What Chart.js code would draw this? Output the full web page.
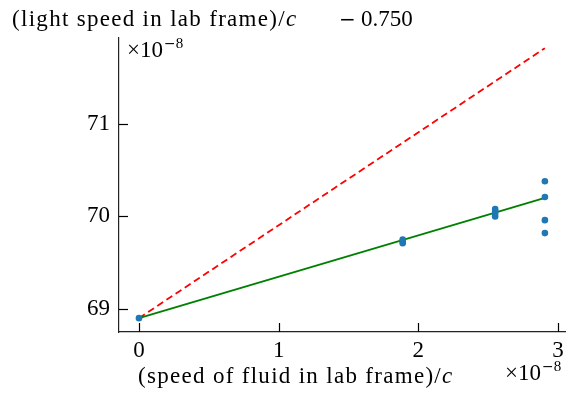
<!DOCTYPE html>
<html>
<head>
<meta charset="utf-8">
<script src="https://cdn.jsdelivr.net/npm/chart.js@4.4.0/dist/chart.umd.min.js"></script>
<style>
  html, body { margin: 0; padding: 0; background: #fff; }
  #wrap { width: 581px; height: 394px; }
</style>
</head>
<body>
<div id="wrap"><canvas id="chart" width="581" height="394"></canvas></div>
<script>
// measured values (x and y both in units of 1e-8, y offset by 0.750)
const measX = [0, 1.888, 1.888, 1.888, 2.55, 2.55, 2.55, 2.55, 2.906, 2.906, 2.906, 2.906];
const measY = [68.90, 69.71, 69.73, 69.75, 70.00, 70.03, 70.06, 70.08, 70.38, 70.21, 69.96, 69.82];
// fitted line and prediction
const fitX = [0, 2.906];
const fitY = [68.90, 70.20];
const predX = [0, 2.906];
const predY = [68.90, 71.82];
const xTicks = [0, 1, 2, 3];
const yTicks = [69, 70, 71];

const serif = '"Liberation Serif", "DejaVu Serif", serif';
const wideSerif = '"DejaVu Serif", serif';
const toPts = (xs, ys) => xs.map((x, i) => ({ x: x, y: ys[i] }));

// inward ticks + loose labels
const extras = {
  id: 'extras',
  afterDraw(chart) {
    const c = chart.ctx, a = chart.chartArea;
    const xs = chart.scales.x, ys = chart.scales.y;
    c.save();
    c.strokeStyle = '#000';
    c.lineWidth = 1.2;
    xTicks.forEach(v => {
      const px = Math.round(xs.getPixelForValue(v)) + 0.5;
      c.beginPath(); c.moveTo(px, a.bottom); c.lineTo(px, a.bottom - 9); c.stroke();
    });
    yTicks.forEach(v => {
      const py = Math.round(ys.getPixelForValue(v)) + 0.5;
      c.beginPath(); c.moveTo(a.left, py); c.lineTo(a.left + 9, py); c.stroke();
    });
    c.fillStyle = '#000';
    c.textBaseline = 'alphabetic';
    c.textAlign = 'left';
    const label = (txt, x, y) => {
      c.letterSpacing = '1.3px';
      c.font = '23px ' + serif;
      c.fillText(txt, x, y);
      const w = c.measureText(txt).width;
      c.font = 'italic 23px ' + serif;
      c.fillText('c', x + w, y);
      c.letterSpacing = '0px';
    };
    label('(light speed in lab frame)/', 12, 26);
    c.font = '20px ' + wideSerif;
    c.fillText('\u2212', 339, 26);
    c.font = '23px ' + serif;
    c.fillText('0.750', 361, 26);
    label('(speed of fluid in lab frame)/', 138, 383);
    // offset text
    const sci = (x, y) => {
      c.font = '23px ' + serif;
      c.fillText('\u00d710', x, y);
      const ww = c.measureText('\u00d710').width;
      c.font = '14px ' + wideSerif;
      c.fillText('\u2212', x + ww + 1, y - 9);
      const wm = c.measureText('\u2212').width;
      c.font = '15px ' + serif;
      c.fillText('8', x + ww + 1 + wm, y - 9);
    };
    sci(127, 57);
    sci(505, 380);
    c.restore();
  }
};

new Chart(document.getElementById('chart'), {
  type: 'scatter',
  data: {
    datasets: [
      {
        type: 'line', data: toPts(predX, predY),
        borderColor: '#ff0000', borderWidth: 1.8, borderDash: [7, 4],
        pointRadius: 0, fill: false, order: 3
      },
      {
        type: 'line', data: toPts(fitX, fitY),
        borderColor: '#008000', borderWidth: 1.8,
        pointRadius: 0, fill: false, order: 2
      },
      {
        data: toPts(measX, measY),
        backgroundColor: '#1f77b4', borderColor: '#1f77b4',
        pointRadius: 3.3, pointBorderWidth: 0, order: 1
      }
    ]
  },
  options: {
    responsive: false,
    animation: false,
    layout: { padding: { top: 38, right: 16, left: 0, bottom: 0 } },
    plugins: { legend: { display: false }, tooltip: { enabled: false } },
    scales: {
      x: {
        type: 'linear', min: -0.143, max: 3.05,
        afterBuildTicks: s => { s.ticks = xTicks.map(v => ({ value: v })); },
        afterFit: s => { s.height = 62; },
        grid: { display: false, drawTicks: false },
        border: { display: true, color: '#222', width: 1.2 },
        ticks: { color: '#000', padding: 5, font: { family: serif, size: 23 } }
      },
      y: {
        type: 'linear', min: 68.75, max: 71.93,
        afterBuildTicks: s => { s.ticks = yTicks.map(v => ({ value: v })); },
        afterFit: s => { s.width = 119; },
        grid: { display: false, drawTicks: false },
        border: { display: true, color: '#222', width: 1.2 },
        ticks: { color: '#000', padding: 9, font: { family: serif, size: 23 } }
      }
    }
  },
  plugins: [extras]
});
</script>
</body>
</html>
